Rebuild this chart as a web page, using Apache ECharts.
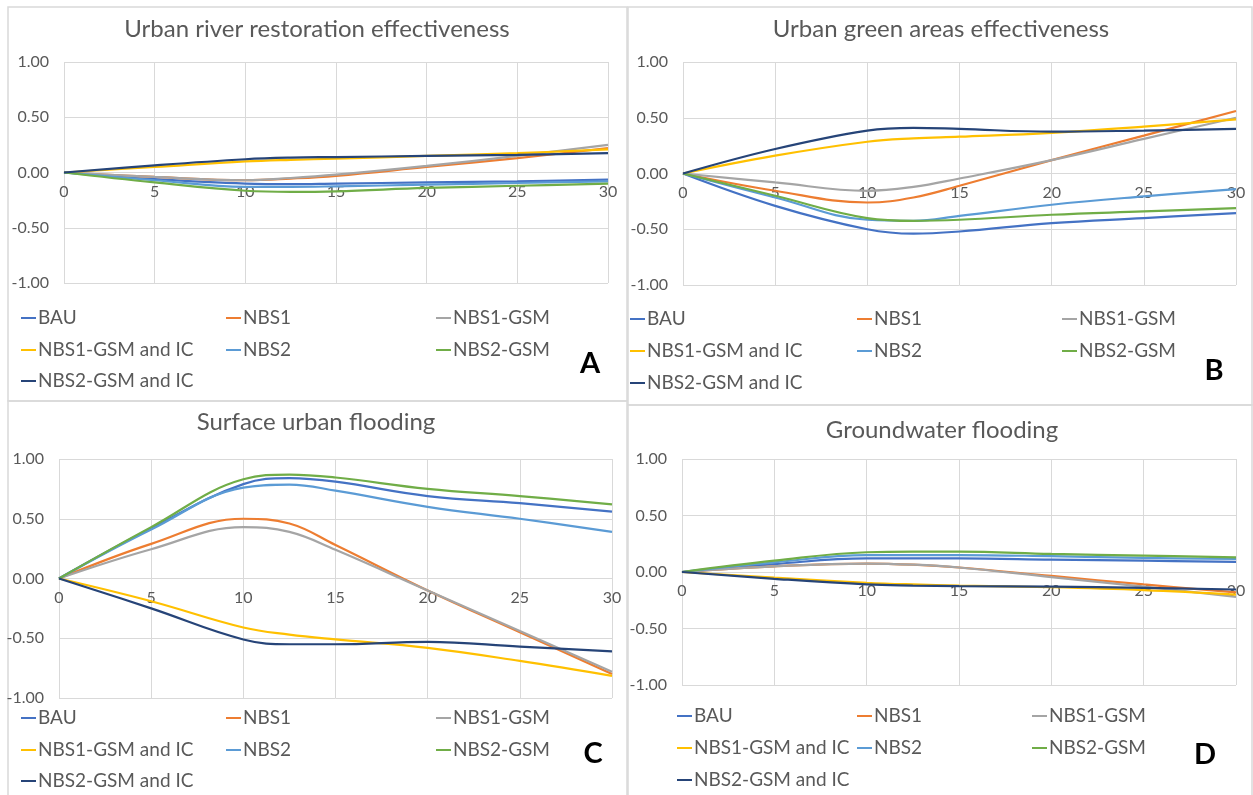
<!DOCTYPE html>
<html>
<head>
<meta charset="utf-8">
<script src="https://cdn.jsdelivr.net/npm/echarts@6/dist/echarts.min.js"></script>
<style>
html,body{margin:0;padding:0;background:#fff;}
#chart{width:1253px;height:795px;}
</style>
</head>
<body>
<div id="chart"></div>
<script>
// ---- data ----
const years = [0, 5, 10, 12.5, 15, 20, 25, 30];
const xTicks = [0, 5, 10, 15, 20, 25, 30];
const yTicks = [-1, -0.5, 0, 0.5, 1];
const seriesNames = ['BAU', 'NBS1', 'NBS1-GSM', 'NBS1-GSM and IC', 'NBS2', 'NBS2-GSM', 'NBS2-GSM and IC'];
const panelTitles = ['Urban river restoration effectiveness', 'Urban green areas effectiveness', 'Surface urban flooding', 'Groundwater flooding'];
const panelLetters = ['A', 'B', 'C', 'D'];

// A: Urban river restoration effectiveness
const riverBAU      = [0, -0.06, -0.10, -0.105, -0.10, -0.09, -0.08, -0.065];
const riverNBS1     = [0, -0.04, -0.07, -0.055, -0.03, 0.05, 0.13, 0.22];
const riverNBS1GSM  = [0, -0.04, -0.07, -0.05, -0.02, 0.06, 0.15, 0.25];
const riverNBS1IC   = [0, 0.05, 0.10, 0.115, 0.125, 0.15, 0.175, 0.21];
const riverNBS2     = [0, -0.07, -0.13, -0.13, -0.125, -0.11, -0.095, -0.08];
const riverNBS2GSM  = [0, -0.09, -0.165, -0.175, -0.17, -0.14, -0.12, -0.10];
const riverNBS2IC   = [0, 0.065, 0.12, 0.135, 0.14, 0.15, 0.16, 0.175];

// B: Urban green areas effectiveness
const greenBAU      = [0, -0.29, -0.50, -0.54, -0.52, -0.445, -0.40, -0.355];
const greenNBS1     = [0, -0.155, -0.26, -0.215, -0.11, 0.12, 0.34, 0.56];
const greenNBS1GSM  = [0, -0.08, -0.155, -0.12, -0.045, 0.12, 0.31, 0.50];
const greenNBS1IC   = [0, 0.16, 0.285, 0.315, 0.33, 0.365, 0.42, 0.485];
const greenNBS2     = [0, -0.215, -0.415, -0.425, -0.38, -0.28, -0.205, -0.14];
const greenNBS2GSM  = [0, -0.20, -0.40, -0.425, -0.415, -0.37, -0.34, -0.31];
const greenNBS2IC   = [0, 0.22, 0.385, 0.41, 0.40, 0.375, 0.385, 0.40];

// C: Surface urban flooding
const surfBAU       = [0, 0.42, 0.79, 0.84, 0.81, 0.69, 0.63, 0.56];
const surfNBS1      = [0, 0.29, 0.50, 0.46, 0.28, -0.10, -0.45, -0.80];
const surfNBS1GSM   = [0, 0.245, 0.43, 0.39, 0.24, -0.10, -0.44, -0.78];
const surfNBS1IC    = [0, -0.19, -0.41, -0.47, -0.51, -0.58, -0.69, -0.815];
const surfNBS2      = [0, 0.41, 0.76, 0.785, 0.735, 0.60, 0.50, 0.39];
const surfNBS2GSM   = [0, 0.43, 0.83, 0.87, 0.845, 0.75, 0.69, 0.62];
const surfNBS2IC    = [0, -0.25, -0.51, -0.55, -0.55, -0.53, -0.57, -0.61];

// D: Groundwater flooding
const groundBAU     = [0, 0.07, 0.12, 0.12, 0.12, 0.11, 0.10, 0.09];
const groundNBS1    = [0, 0.05, 0.075, 0.065, 0.04, -0.035, -0.11, -0.18];
const groundNBS1GSM = [0, 0.05, 0.075, 0.065, 0.04, -0.045, -0.13, -0.22];
const groundNBS1IC  = [0, -0.05, -0.095, -0.11, -0.12, -0.135, -0.16, -0.20];
const groundNBS2    = [0, 0.085, 0.15, 0.15, 0.15, 0.14, 0.125, 0.115];
const groundNBS2GSM = [0, 0.10, 0.175, 0.18, 0.18, 0.16, 0.145, 0.13];
const groundNBS2IC  = [0, -0.06, -0.11, -0.12, -0.125, -0.13, -0.14, -0.155];

const panelData = [
  [riverBAU, riverNBS1, riverNBS1GSM, riverNBS1IC, riverNBS2, riverNBS2GSM, riverNBS2IC],
  [greenBAU, greenNBS1, greenNBS1GSM, greenNBS1IC, greenNBS2, greenNBS2GSM, greenNBS2IC],
  [surfBAU, surfNBS1, surfNBS1GSM, surfNBS1IC, surfNBS2, surfNBS2GSM, surfNBS2IC],
  [groundBAU, groundNBS1, groundNBS1GSM, groundNBS1IC, groundNBS2, groundNBS2GSM, groundNBS2IC]
];

// ---- styles / layout ----
const colors = ['#4472C4', '#ED7D31', '#A5A5A5', '#FFC000', '#5B9BD5', '#70AD47', '#264478'];
const FONT = 'Lato, "Open Sans", sans-serif';
const TXT = '#595959';
const GRIDC = '#D9D9D9';

const grids = [
  {left: 64, top: 62, width: 544, height: 221},
  {left: 683, top: 62, width: 553, height: 223},
  {left: 59, top: 459, width: 553, height: 239},
  {left: 682, top: 459, width: 554, height: 226}
];
const titlePos = [[317, 31], [941, 31], [316, 424], [942, 432]];
const letterPos = [[590, 366], [1214, 373], [593, 756], [1205, 757]];
const legendCols = [[21, 226, 436], [630, 857, 1062], [21, 226, 436], [677, 857, 1032]];
const legendRows = [[318, 350, 381], [319, 351, 383], [718, 750, 781], [716, 748, 780]];
const borders = [[8, 7, 619, 394], [628, 7, 624, 398], [8, 401, 619, 400], [628, 405, 624, 400]];

const option = {
  backgroundColor: '#fff',
  animation: false,
  title: [], grid: [], xAxis: [], yAxis: [], legend: [], series: [],
  graphic: []
};

borders.forEach(b => {
  option.graphic.push({type: 'rect', shape: {x: b[0], y: b[1], width: b[2], height: b[3]},
    style: {fill: 'none', stroke: GRIDC, lineWidth: 1.5}, silent: true, z: -1});
});

const yMin = yTicks[0], yMax = yTicks[yTicks.length - 1];

for (let p = 0; p < 4; p++) {
  option.title.push({text: panelTitles[p], left: titlePos[p][0], top: titlePos[p][1] - 14, textAlign: 'center',
    padding: 0, textStyle: {fontFamily: FONT, fontSize: 24, fontWeight: 'normal', color: TXT}});
  option.title.push({text: panelLetters[p], left: letterPos[p][0], top: letterPos[p][1] - 17, textAlign: 'center',
    padding: 0, textStyle: {fontFamily: FONT, fontSize: 29, fontWeight: 'bold', color: '#000'}});
  option.grid.push(Object.assign({}, grids[p]));
  // x axis drawn through the y = 0 level (like Excel "axis crosses at 0")
  const zeroOffset = -grids[p].height * (0 - yMin) / (yMax - yMin);
  option.xAxis.push({
    gridIndex: p, type: 'value', position: 'bottom', offset: zeroOffset,
    min: xTicks[0], max: xTicks[xTicks.length - 1], interval: xTicks[1] - xTicks[0],
    axisLine: {show: true, onZero: false, lineStyle: {color: GRIDC, width: 1}},
    axisTick: {show: false},
    axisLabel: {color: TXT, fontSize: 16, fontFamily: FONT, margin: 11, showMinLabel: true, showMaxLabel: true},
    splitLine: {show: true, lineStyle: {color: GRIDC, width: 1}}
  });
  option.yAxis.push({
    gridIndex: p, type: 'value', min: yMin, max: yMax, interval: yTicks[1] - yTicks[0],
    axisLine: {show: false, onZero: false}, axisTick: {show: false},
    axisLabel: {color: TXT, fontSize: 16, fontFamily: FONT, margin: 15, formatter: v => v.toFixed(2)},
    splitLine: {show: true, lineStyle: {color: GRIDC, width: 1}}
  });
  seriesNames.forEach((name, s) => {
    option.series.push({
      name: name, type: 'line', xAxisIndex: p, yAxisIndex: p,
      data: years.map((x, i) => [x, panelData[p][s][i]]),
      smooth: 0.4, symbol: 'none', color: colors[s],
      lineStyle: {width: 2.2, color: colors[s]}, z: 2 + s
    });
    const row = Math.floor(s / 3), col = s % 3;
    option.legend.push({
      data: [name], left: legendCols[p][col], top: legendRows[p][row] - 10, padding: 0,
      icon: 'rect', itemWidth: 15, itemHeight: 2, itemGap: 0,
      textStyle: {fontFamily: FONT, fontSize: 19, color: TXT, lineHeight: 20, padding: [0, 0, 0, -3]}
    });
  });
}

const chart = echarts.init(document.getElementById('chart'), null, {renderer: 'canvas'});
chart.setOption(option);
</script>
</body>
</html>
